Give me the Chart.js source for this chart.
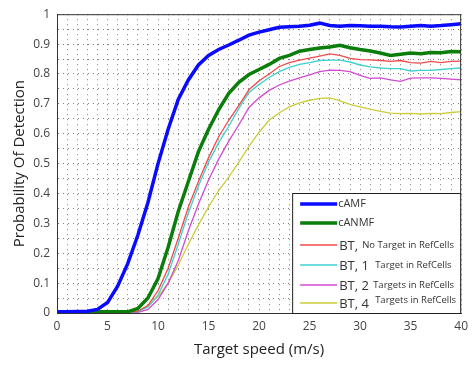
<!DOCTYPE html>
<html>
<head>
<meta charset="utf-8">
<script src="https://cdn.jsdelivr.net/npm/chart.js@4/dist/chart.umd.min.js"></script>
<style>
  html, body { margin: 0; padding: 0; background: #fff; }
  #wrap { width: 474px; height: 367px; }
</style>
</head>
<body>
<div id="wrap"><canvas id="c" width="474" height="367"></canvas></div>
<script>
// ---- data ----
const speeds = [0,1,2,3,4,5,6,7,8,9,10,11,12,13,14,15,16,17,18,19,20,21,22,23,24,25,26,27,28,29,30,31,32,33,34,35,36,37,38,39,40];
const cAMF  = [0.004,0.004,0.005,0.006,0.012,0.035,0.09,0.165,0.26,0.37,0.5,0.615,0.715,0.78,0.83,0.862,0.882,0.897,0.913,0.93,0.94,0.948,0.956,0.958,0.96,0.963,0.97,0.962,0.96,0.962,0.961,0.96,0.96,0.958,0.957,0.96,0.962,0.96,0.962,0.965,0.968];
const cANMF = [0.004,0.004,0.004,0.004,0.004,0.004,0.004,0.004,0.015,0.05,0.115,0.22,0.34,0.44,0.54,0.615,0.68,0.735,0.772,0.798,0.815,0.832,0.852,0.862,0.876,0.882,0.887,0.89,0.896,0.888,0.882,0.877,0.87,0.862,0.866,0.87,0.868,0.872,0.871,0.875,0.874];
const bt0   = [0.002,0.002,0.002,0.002,0.002,0.002,0.002,0.002,0.006,0.025,0.075,0.15,0.25,0.355,0.44,0.52,0.59,0.645,0.695,0.747,0.777,0.8,0.825,0.838,0.846,0.853,0.86,0.867,0.862,0.852,0.848,0.847,0.845,0.842,0.845,0.838,0.836,0.842,0.838,0.842,0.843];
const bt1   = [0.002,0.002,0.002,0.002,0.002,0.002,0.002,0.002,0.005,0.02,0.06,0.13,0.23,0.335,0.425,0.505,0.57,0.625,0.685,0.738,0.765,0.788,0.808,0.822,0.832,0.838,0.845,0.846,0.846,0.84,0.83,0.824,0.82,0.818,0.818,0.81,0.812,0.812,0.815,0.818,0.82];
const bt2   = [0.002,0.002,0.002,0.002,0.002,0.002,0.002,0.002,0.002,0.012,0.045,0.1,0.175,0.275,0.365,0.445,0.515,0.575,0.63,0.688,0.72,0.745,0.763,0.776,0.787,0.797,0.808,0.813,0.812,0.808,0.795,0.785,0.787,0.78,0.775,0.786,0.787,0.787,0.785,0.783,0.78];
const bt4   = [0.002,0.002,0.002,0.002,0.002,0.002,0.002,0.002,0.006,0.025,0.055,0.1,0.16,0.23,0.295,0.355,0.41,0.455,0.505,0.558,0.605,0.645,0.67,0.69,0.703,0.712,0.718,0.72,0.71,0.698,0.69,0.682,0.675,0.669,0.667,0.668,0.666,0.668,0.667,0.671,0.674];
const xTickLabels = ['0','5','10','15','20','25','30','35','40'];
const yTickLabels = ['0','0.1','0.2','0.3','0.4','0.5','0.6','0.7','0.8','0.9','1'];
const legendMain = ['cAMF','cANMF','BT,','BT, 1','BT, 2','BT, 4'];
const legendSub  = ['','','No Target in RefCells','Target in RefCells','Targets in RefCells','Targets in RefCells'];

const series = [
  { data: cAMF,  color: '#0a0aff', width: 3.5 },
  { data: cANMF, color: '#0a7d0a', width: 3.5 },
  { data: bt0,   color: '#f24a4a', width: 1.3 },
  { data: bt1,   color: '#3fd0d0', width: 1.3 },
  { data: bt2,   color: '#d24ad2', width: 1.3 },
  { data: bt4,   color: '#cccc3a', width: 1.3 }
];

const toXY = arr => arr.map((v, i) => ({ x: speeds[i], y: v }));

const bgPlugin = {
  id: 'bg',
  beforeDraw(chart) {
    const ctx = chart.ctx;
    ctx.save();
    ctx.fillStyle = '#fff';
    ctx.fillRect(0, 0, chart.width, chart.height);
    ctx.restore();
  }
};

const framePlugin = {
  id: 'frame',
  afterDatasetsDraw(chart) {
    const { ctx, chartArea: a } = chart;
    ctx.save();
    ctx.setLineDash([]);
    // plot frame
    ctx.strokeStyle = '#333';
    ctx.lineWidth = 1;
    ctx.strokeRect(a.left + 0.5, a.top + 0.5, a.right - a.left - 1, a.bottom - a.top);
    // legend box
    const bx = a.right - 169, by = a.bottom - 120, bw = 169, bh = 120;
    ctx.fillStyle = '#fff';
    ctx.fillRect(bx, by, bw, bh);
    ctx.strokeStyle = '#222';
    ctx.strokeRect(bx + 0.5, by + 0.5, bw - 1, bh);
    const rows = [11, 30, 52, 72, 92, 110];
    ctx.textBaseline = 'middle';
    series.forEach((s, i) => {
      const y = by + rows[i];
      ctx.strokeStyle = s.color;
      ctx.lineWidth = i < 2 ? 3.5 : 1.6;
      ctx.beginPath();
      ctx.moveTo(bx + 8, y);
      ctx.lineTo(bx + 45, y);
      ctx.stroke();
      ctx.fillStyle = '#333';
      if (i < 2) {
        ctx.font = '11px "Open Sans", sans-serif';
        ctx.fillText(legendMain[i], bx + 46, y);
      } else {
        ctx.font = '13px "Open Sans", sans-serif';
        ctx.fillText(legendMain[i], bx + 47, y + 1);
        ctx.font = '9.5px "Open Sans", sans-serif';
        const subX = [0, 0, bx + 70, bx + 83, bx + 81, bx + 83][i];
        const dy = i === 5 ? -3 : 0;
        ctx.fillText(legendSub[i], subX, y + dy);
      }
    });
    ctx.restore();
  }
};

const gridStyle = {
  color: 'rgba(40,40,40,0.6)',
  lineWidth: 1,
  drawTicks: false
};

new Chart(document.getElementById('c'), {
  type: 'line',
  data: {
    datasets: series.map((s, i) => ({
      label: legendMain[i] + (legendSub[i] ? ' ' + legendSub[i] : ''),
      data: toXY(s.data),
      borderColor: s.color,
      backgroundColor: s.color,
      borderWidth: s.width,
      pointRadius: 0,
      tension: 0,
      fill: false
    }))
  },
  options: {
    responsive: false,
    animation: false,
    devicePixelRatio: 1,
    layout: { padding: { top: 12, right: 10, left: 0, bottom: 0 } },
    plugins: { legend: { display: false }, tooltip: { enabled: false } },
    scales: {
      x: {
        type: 'linear',
        min: 0, max: 40,
        afterFit(scale) { scale.height = 54; },
        ticks: {
          stepSize: 1,
          autoSkip: false,
          maxRotation: 0,
          padding: 6,
          color: '#444',
          font: { family: '"Open Sans", sans-serif', size: 12 },
          callback: v => (v % 5 === 0 ? xTickLabels[v / 5] : '')
        },
        grid: gridStyle,
        border: { display: true, color: '#333', width: 1, dash: [1, 4] },
        title: {
          display: true,
          text: 'Target speed (m/s)',
          color: '#222',
          font: { family: '"Open Sans", sans-serif', size: 15 },
          padding: { top: 0, bottom: 8 }
        }
      },
      y: {
        type: 'linear',
        min: 0, max: 1,
        afterFit(scale) { scale.width = 57; },
        ticks: {
          stepSize: 0.05,
          autoSkip: false,
          padding: 7,
          color: '#444',
          font: { family: '"Open Sans", sans-serif', size: 12 },
          callback: v => {
            const r = Math.round(v * 100);
            return r % 10 === 0 ? yTickLabels[r / 10] : '';
          }
        },
        grid: gridStyle,
        border: { display: true, color: '#333', width: 1, dash: [1, 4] },
        title: {
          display: true,
          text: 'Probability Of Detection',
          color: '#222',
          font: { family: '"Open Sans", sans-serif', size: 15 },
          padding: { top: 11, bottom: 0 }
        }
      }
    }
  },
  plugins: [bgPlugin, framePlugin]
});
</script>
</body>
</html>
